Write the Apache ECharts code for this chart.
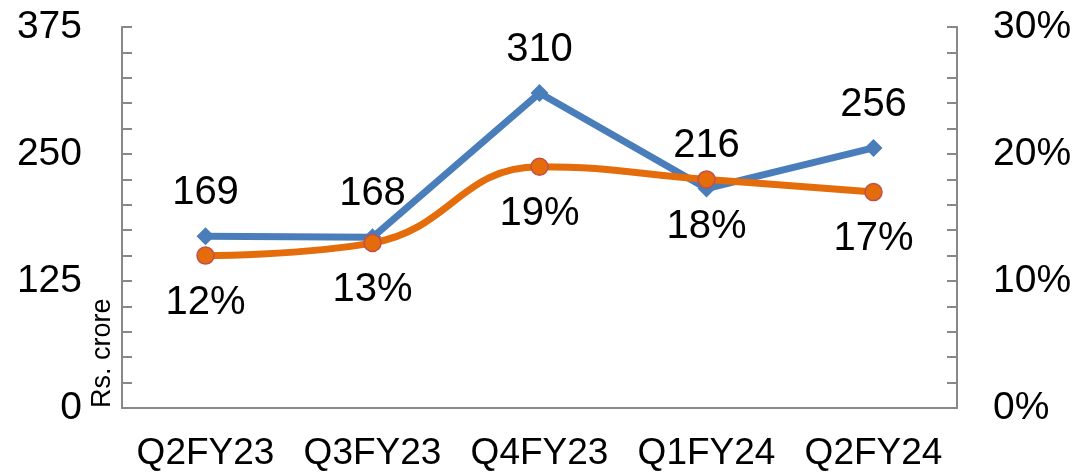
<!DOCTYPE html>
<html><head><meta charset="utf-8">
<script src="https://cdn.jsdelivr.net/npm/echarts@6/dist/echarts.min.js"></script>
<style>html,body{margin:0;padding:0;background:#fff}#c{width:1084px;height:472px}</style>
</head><body><div id="c"></div>
<script>
const categories = ['Q2FY23','Q3FY23','Q4FY23','Q1FY24','Q2FY24'];
const revenue = [169, 168, 310, 216, 256];
const margin = [0.12, 0.13, 0.19, 0.18, 0.17];
const leftTicks = [0, 125, 250, 375];
const rightTicks = [0, 0.1, 0.2, 0.3];

const chart = echarts.init(document.getElementById('c'));
const font = 'Liberation Sans, Arial, sans-serif';
const axisGray = '#888888';
chart.setOption({
  animation: false,
  grid: {left: 122, right: 127, top: 27, bottom: 63, containLabel: false},
  xAxis: {
    type: 'category', data: categories, boundaryGap: true,
    axisLine: {lineStyle: {color: axisGray, width: 2}},
    axisTick: {show: false},
    axisLabel: {color: '#000', fontSize: 37, fontFamily: font, margin: 27, interval: 0}
  },
  yAxis: [{
    type: 'value', min: 0, max: 375, interval: 25,
    name: 'Rs. crore', nameLocation: 'start', nameRotate: 90, nameGap: 0,
    nameTextStyle: {fontSize: 27, fontFamily: font, color: '#000', align: 'left', verticalAlign: 'bottom', padding: [0,0,6,0]},
    axisLine: {show: true, lineStyle: {color: axisGray, width: 2}},
    axisTick: {show: true, inside: true, length: 10, lineStyle: {color: axisGray, width: 2}},
    splitLine: {show: false},
    axisLabel: {color: '#000', fontSize: 39, fontFamily: font, margin: 40,
      formatter: v => leftTicks.includes(v) ? String(v) : ''}
  }, {
    type: 'value', min: 0, max: 0.3, interval: 0.02, position: 'right',
    axisLine: {show: true, lineStyle: {color: axisGray, width: 2}},
    axisTick: {show: true, inside: true, length: 10, lineStyle: {color: axisGray, width: 2}},
    splitLine: {show: false},
    axisLabel: {color: '#000', fontSize: 39, fontFamily: font, margin: 36,
      formatter: v => rightTicks.some(t => Math.abs(t - v) < 1e-9) ? Math.round(v*100) + '%' : ''}
  }],
  series: [{
    type: 'line', data: revenue, yAxisIndex: 0,
    symbol: 'diamond', symbolSize: 18,
    lineStyle: {color: '#4a7ebb', width: 7},
    itemStyle: {color: '#4a7ebb'},
    label: {show: true, position: 'top', distance: 14, color: '#000', fontSize: 40, fontFamily: font},
    z: 2
  }, {
    type: 'line', data: margin, yAxisIndex: 1, smooth: 0.45,
    symbol: 'circle', symbolSize: 17,
    lineStyle: {color: '#e46c0a', width: 7},
    itemStyle: {color: '#e46c0a', borderColor: '#c0504d', borderWidth: 1.5},
    label: {show: true, position: 'bottom', distance: 18, color: '#000', fontSize: 40, fontFamily: font,
      formatter: p => Math.round(p.value*100) + '%'},
    z: 3
  }]
});
</script></body></html>
